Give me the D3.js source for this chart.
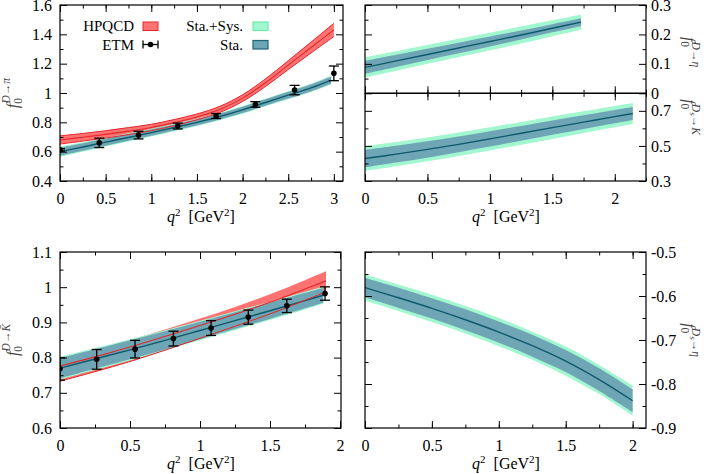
<!DOCTYPE html>
<html>
<head>
<meta charset="utf-8">
<script src="https://cdn.jsdelivr.net/npm/d3@7"></script>
<style>
  body { margin: 0; background: #fff; }
  svg { display: block; }
</style>
</head>
<body>
<svg id="chart" width="706" height="474"></svg>
<script>
// ---- D -> pi (top left)
const qPi = [0, 0.25, 0.5, 0.75, 1, 1.25, 1.5, 1.75, 2, 2.25, 2.5, 2.75, 2.97];
const piFit = [0.600, 0.632, 0.665, 0.697, 0.730, 0.765, 0.800, 0.840, 0.885, 0.935, 0.985, 1.035, 1.088];
const piSta = [0.028, 0.026, 0.024, 0.023, 0.022, 0.021, 0.021, 0.021, 0.022, 0.022, 0.023, 0.024, 0.025];
const piSys = [0.036, 0.033, 0.030, 0.028, 0.027, 0.026, 0.025, 0.025, 0.026, 0.026, 0.027, 0.028, 0.029];
const qPiHpqcd = [0, 0.25, 0.5, 0.75, 1, 1.25, 1.5, 1.75, 2, 2.25, 2.5, 2.75, 3];
const piHpqcd = [0.680, 0.698, 0.718, 0.740, 0.765, 0.798, 0.837, 0.888, 0.965, 1.070, 1.190, 1.310, 1.430];
const piHpqcdLo = [0.652, 0.672, 0.693, 0.716, 0.743, 0.777, 0.817, 0.867, 0.942, 1.044, 1.160, 1.273, 1.385];
const piHpqcdHi = [0.708, 0.724, 0.743, 0.764, 0.787, 0.819, 0.857, 0.909, 0.988, 1.096, 1.220, 1.347, 1.475];
const qPiEtm = [0, 0.43, 0.86, 1.29, 1.71, 2.14, 2.57, 3.0];
const piEtm = [0.612, 0.660, 0.713, 0.775, 0.843, 0.922, 1.020, 1.134];
const piEtmErr = [0.008, 0.032, 0.026, 0.020, 0.017, 0.019, 0.032, 0.050];

// ---- D -> eta (top right, upper)
const qEta = [0, 0.25, 0.5, 0.75, 1, 1.25, 1.5, 1.73];
const etaFit = [0.088, 0.110, 0.132, 0.154, 0.176, 0.198, 0.221, 0.242];
const etaSta = [0.022, 0.021, 0.019, 0.018, 0.017, 0.015, 0.014, 0.013];
const etaSys = [0.034, 0.033, 0.032, 0.031, 0.030, 0.029, 0.027, 0.026];

// ---- Ds -> K (top right, lower)
const qDsK = [0, 0.25, 0.5, 0.75, 1, 1.25, 1.5, 1.75, 2, 2.144];
const dsKFit = [0.428, 0.453, 0.480, 0.509, 0.540, 0.572, 0.604, 0.636, 0.667, 0.685];
const dsKSta = [0.050, 0.048, 0.047, 0.045, 0.044, 0.042, 0.041, 0.039, 0.038, 0.037];
const dsKSys = [0.070, 0.069, 0.068, 0.067, 0.066, 0.065, 0.064, 0.062, 0.061, 0.060];

// ---- D -> Kbar (bottom left)
const qK = [0, 0.25, 0.5, 0.75, 1, 1.25, 1.5, 1.75, 1.88];
const kFit = [0.770, 0.796, 0.822, 0.849, 0.877, 0.905, 0.933, 0.962, 0.977];
const kSta = [0.029, 0.028, 0.027, 0.026, 0.025, 0.024, 0.023, 0.022, 0.021];
const kSys = [0.032, 0.031, 0.030, 0.029, 0.028, 0.027, 0.026, 0.025, 0.024];
const qKHpqcd = [0, 0.25, 0.5, 0.75, 1, 1.25, 1.5, 1.75, 1.9];
const kHpqcd = [0.776, 0.802, 0.830, 0.860, 0.891, 0.923, 0.957, 0.995, 1.018];
const kHpqcdLo = [0.733, 0.760, 0.789, 0.821, 0.855, 0.889, 0.924, 0.963, 0.987];
const kHpqcdHi = [0.796, 0.822, 0.850, 0.880, 0.911, 0.944, 0.980, 1.020, 1.045];
const qKEtm = [0, 0.262, 0.536, 0.81, 1.079, 1.345, 1.62, 1.893];
const kEtm = [0.768, 0.795, 0.824, 0.854, 0.884, 0.915, 0.947, 0.982];
const kEtmErr = [0.032, 0.028, 0.025, 0.021, 0.021, 0.020, 0.019, 0.019];

// ---- Ds -> eta (bottom right)
const qDsEta = [0, 0.25, 0.5, 0.75, 1, 1.25, 1.5, 1.75, 2];
const dsEtaFit = [-0.581, -0.604, -0.628, -0.654, -0.682, -0.713, -0.748, -0.790, -0.838];
const dsEtaSta = [0.022, 0.023, 0.023, 0.024, 0.024, 0.025, 0.025, 0.026, 0.026];
const dsEtaSys = [0.030, 0.030, 0.031, 0.031, 0.032, 0.032, 0.033, 0.033, 0.034];

const FONT = '"Liberation Serif", "DejaVu Serif", serif';
const RED_FILL = '#ff7272';
const RED_LINE = '#e3262a';
const GREEN = '#a2f7d0';
const GREEN_EDGE = '#6ee8ad';
const TEAL = '#6fa6b5';
const TEAL_EDGE = '#1d6679';
const FIT_LINE = '#0d5a6c';

const svg = d3.select('#chart').style('font-family', FONT);
let clipCount = 0;

function makePanel(l, r, t, b, xd, yd) {
  const x = d3.scaleLinear().domain(xd).range([l, r]);
  const y = d3.scaleLinear().domain(yd).range([b, t]);
  const id = 'clip' + (clipCount++);
  svg.append('clipPath').attr('id', id)
    .append('rect').attr('x', l).attr('y', t).attr('width', r - l).attr('height', b - t);
  const g = svg.append('g').attr('clip-path', `url(#${id})`);
  return { x, y, g, l, r, t, b };
}

// filled region between two curves
function fillBetween(p, q, lo, hi, fill) {
  const area = d3.area()
    .x((d, i) => p.x(q[i]))
    .y0((d, i) => p.y(lo[i]))
    .y1((d, i) => p.y(hi[i]))
    .curve(d3.curveCatmullRom);
  p.g.append('path').datum(q).attr('d', area).attr('fill', fill);
}

function band(p, q, mid, half, fill) {
  fillBetween(p, q, mid.map((v, i) => v - half[i]), mid.map((v, i) => v + half[i]), fill);
}

function curve(p, q, vals, color, w) {
  const ln = d3.line()
    .x((d, i) => p.x(q[i]))
    .y((d, i) => p.y(vals[i]))
    .curve(d3.curveCatmullRom);
  p.g.append('path').datum(q).attr('d', ln)
    .attr('fill', 'none').attr('stroke', color).attr('stroke-width', w);
}

function etm(p, q, vals, err) {
  const pts = p.g.append('g');
  q.forEach((qq, i) => {
    const cx = p.x(qq);
    const y0 = p.y(vals[i] - err[i]);
    const y1 = p.y(vals[i] + err[i]);
    pts.append('line').attr('x1', cx).attr('x2', cx).attr('y1', y0).attr('y2', y1)
      .attr('stroke', '#000').attr('stroke-width', 1.3);
    [y0, y1].forEach(yy => pts.append('line')
      .attr('x1', cx - 5).attr('x2', cx + 5).attr('y1', yy).attr('y2', yy)
      .attr('stroke', '#000').attr('stroke-width', 1.3));
    pts.append('circle').attr('cx', cx).attr('cy', p.y(vals[i])).attr('r', 2.8).attr('fill', '#000');
  });
}

const fmt = d => String(+d.toFixed(2));

function styleAxis(sel) {
  sel.select('.domain').remove();
  sel.attr('font-family', FONT).attr('font-size', 16);
  sel.selectAll('line').attr('stroke-width', 1);
}

function axes(p, o) {
  const xMaj = d3.range(o.xd[0], o.xd[1] + 1e-9, o.xStep);
  const xMin = d3.range(o.xd[0], o.xd[1] + 1e-9, o.xStep / 2);

  [[d3.axisBottom, p.b, true], [d3.axisTop, p.t, false]].forEach(([fn, pos, lab]) => {
    svg.append('g').attr('transform', `translate(0,${pos})`)
      .call(fn(p.x).tickValues(xMin).tickSize(-3.5).tickFormat(''))
      .call(styleAxis);
    svg.append('g').attr('transform', `translate(0,${pos})`)
      .call(fn(p.x).tickValues(xMaj).tickSize(-7).tickPadding(12)
        .tickFormat(lab && o.xLabels ? fmt : ''))
      .call(styleAxis);
  });

  [[d3.axisLeft, p.l, o.side === 'left'], [d3.axisRight, p.r, o.side === 'right']].forEach(([fn, pos, lab]) => {
    svg.append('g').attr('transform', `translate(${pos},0)`)
      .call(fn(p.y).tickValues(o.yMin).tickSize(-3.5).tickFormat(''))
      .call(styleAxis);
    svg.append('g').attr('transform', `translate(${pos},0)`)
      .call(fn(p.y).tickValues(o.yMaj).tickSize(-7).tickPadding(lab && o.side === 'left' ? 8 : 5)
        .tickFormat(lab ? fmt : ''))
      .call(styleAxis);
  });

  svg.append('rect')
    .attr('x', p.l).attr('y', p.t).attr('width', p.r - p.l).attr('height', p.b - p.t)
    .attr('fill', 'none').attr('stroke', '#000').attr('stroke-width', 1.2);
}

function xTitle(cx, y) {
  const t = svg.append('text').attr('x', cx).attr('y', y)
    .attr('text-anchor', 'middle').attr('font-size', 16);
  t.append('tspan').attr('font-style', 'italic').text('q');
  t.append('tspan').attr('font-size', 11).attr('dy', -6).text('2');
  t.append('tspan').attr('dy', 6).text('\u2002[GeV');
  t.append('tspan').attr('font-size', 11).attr('dy', -6).text('2');
  t.append('tspan').attr('dy', 6).text(']');
}

// sup: array of [text, italic, small-subscript]
function yTitle(x, y, rot, sup) {
  const t = svg.append('text')
    .attr('transform', `translate(${x},${y}) rotate(${rot})`)
    .attr('text-anchor', 'middle').attr('font-size', 16).attr('fill', '#444');
  t.append('tspan').attr('font-style', 'italic').text('f');
  t.append('tspan').attr('font-size', 11.5).attr('dy', 3.5).text('0');
  let first = true;
  const hasSub = sup.some(a => a[2]);
  sup.forEach(([txt, it, sub]) => {
    const s = t.append('tspan').attr('font-size', sub ? 9 : 11.5).text(txt);
    if (it) s.attr('font-style', 'italic');
    if (first) { s.attr('dx', -5.5).attr('dy', -11.5); first = false; }
    else if (sub) s.attr('dy', 2);
    else if (txt === '\u2192' && hasSub) s.attr('dy', -2);
  });
}

// ---------------- top left
const pPi = makePanel(60, 343, 5, 181, [0, 3.1], [0.4, 1.6]);
fillBetween(pPi, qPiHpqcd, piHpqcdLo, piHpqcdHi, RED_FILL);
band(pPi, qPi, piFit, piSys, GREEN);
band(pPi, qPi, piFit, piSta, TEAL);
curve(pPi, qPi, piFit, FIT_LINE, 1.4);
curve(pPi, qPiHpqcd, piHpqcd, RED_LINE, 1.1);
curve(pPi, qPiHpqcd, piHpqcdLo, RED_LINE, 1);
curve(pPi, qPiHpqcd, piHpqcdHi, RED_LINE, 1);
etm(pPi, qPiEtm, piEtm, piEtmErr);
axes(pPi, { xd: [0, 3.1], xStep: 0.5, xLabels: true,
  yMaj: d3.range(0.4, 1.61, 0.2), yMin: d3.range(0.5, 1.6, 0.2), side: 'left' });
xTitle(201, 222);
yTitle(18, 93, -90, [['D', true], ['\u2192'], ['\u03c0', true]]);

// legend
const leg = svg.append('g').attr('font-size', 15).attr('text-anchor', 'end');
leg.append('text').attr('x', 134).attr('y', 31).text('HPQCD');
leg.append('text').attr('x', 134).attr('y', 49.5).text('ETM');
leg.append('text').attr('x', 243).attr('y', 31).text('Sta.+Sys.');
leg.append('text').attr('x', 243).attr('y', 49.5).text('Sta.');
leg.append('rect').attr('x', 143).attr('y', 22).attr('width', 15).attr('height', 8.5)
  .attr('fill', RED_FILL).attr('stroke', RED_LINE).attr('stroke-width', 1);
leg.append('rect').attr('x', 253).attr('y', 22).attr('width', 15).attr('height', 8.5)
  .attr('fill', GREEN).attr('stroke', GREEN_EDGE).attr('stroke-width', 1.2);
leg.append('rect').attr('x', 253).attr('y', 40.5).attr('width', 15).attr('height', 8.5)
  .attr('fill', TEAL).attr('stroke', TEAL_EDGE).attr('stroke-width', 1.2);
leg.append('line').attr('x1', 143).attr('x2', 158).attr('y1', 44.5).attr('y2', 44.5)
  .attr('stroke', '#000').attr('stroke-width', 1.3);
[143, 158].forEach(xx => leg.append('line').attr('x1', xx).attr('x2', xx)
  .attr('y1', 40.5).attr('y2', 48.5).attr('stroke', '#000').attr('stroke-width', 1.3));
leg.append('circle').attr('cx', 150.5).attr('cy', 44.5).attr('r', 2.8).attr('fill', '#000');

// ---------------- top right upper
const pEta = makePanel(365, 646, 5, 93.3, [0, 2.25], [0, 0.3]);
band(pEta, qEta, etaFit, etaSys, GREEN);
band(pEta, qEta, etaFit, etaSta, TEAL);
curve(pEta, qEta, etaFit, FIT_LINE, 1.4);
axes(pEta, { xd: [0, 2.25], xStep: 0.5, xLabels: false,
  yMaj: d3.range(0, 0.31, 0.1), yMin: d3.range(0.05, 0.3, 0.1), side: 'right' });
yTitle(684, 52, 90, [['D', true], ['\u2192'], ['\u03b7', true]]);

// ---------------- top right lower
const pDsK = makePanel(365, 646, 93.3, 181, [0, 2.25], [0.3, 0.8]);
band(pDsK, qDsK, dsKFit, dsKSys, GREEN);
band(pDsK, qDsK, dsKFit, dsKSta, TEAL);
curve(pDsK, qDsK, dsKFit, FIT_LINE, 1.4);
axes(pDsK, { xd: [0, 2.25], xStep: 0.5, xLabels: true,
  yMaj: [0.3, 0.5, 0.7], yMin: [0.4, 0.6], side: 'right' });
xTitle(506, 222);
yTitle(684, 117, 90, [['D', true], ['s', false, true], ['\u2192'], ['K', true]]);

// ---------------- bottom left
const pK = makePanel(60, 341, 252, 428, [0, 2.007], [0.6, 1.1]);
fillBetween(pK, qKHpqcd, kHpqcdLo, kHpqcdHi, RED_FILL);
band(pK, qK, kFit, kSys, GREEN);
band(pK, qK, kFit, kSta, TEAL);
curve(pK, qK, kFit, FIT_LINE, 1.4);
curve(pK, qKHpqcd, kHpqcd, RED_LINE, 1.1);
curve(pK, qKHpqcd, kHpqcdLo, RED_LINE, 1);
etm(pK, qKEtm, kEtm, kEtmErr);
axes(pK, { xd: [0, 2.007], xStep: 0.5, xLabels: true,
  yMaj: d3.range(0.6, 1.101, 0.1), yMin: d3.range(0.65, 1.1, 0.1), side: 'left' });
xTitle(201, 469);
yTitle(18, 340, -90, [['D', true], ['\u2192'], ['K\u0304', true]]);

// ---------------- bottom right
const pDsEta = makePanel(365, 646, 252, 428, [0, 2.1], [-0.9, -0.5]);
band(pDsEta, qDsEta, dsEtaFit, dsEtaSys, GREEN);
band(pDsEta, qDsEta, dsEtaFit, dsEtaSta, TEAL);
curve(pDsEta, qDsEta, dsEtaFit, FIT_LINE, 1.4);
axes(pDsEta, { xd: [0, 2.1], xStep: 0.5, xLabels: true,
  yMaj: d3.range(-0.9, -0.499, 0.1), yMin: d3.range(-0.85, -0.5, 0.1), side: 'right' });
xTitle(506, 469);
yTitle(684, 340, 90, [['D', true], ['s', false, true], ['\u2192'], ['\u03b7', true]]);
</script>
</body>
</html>
